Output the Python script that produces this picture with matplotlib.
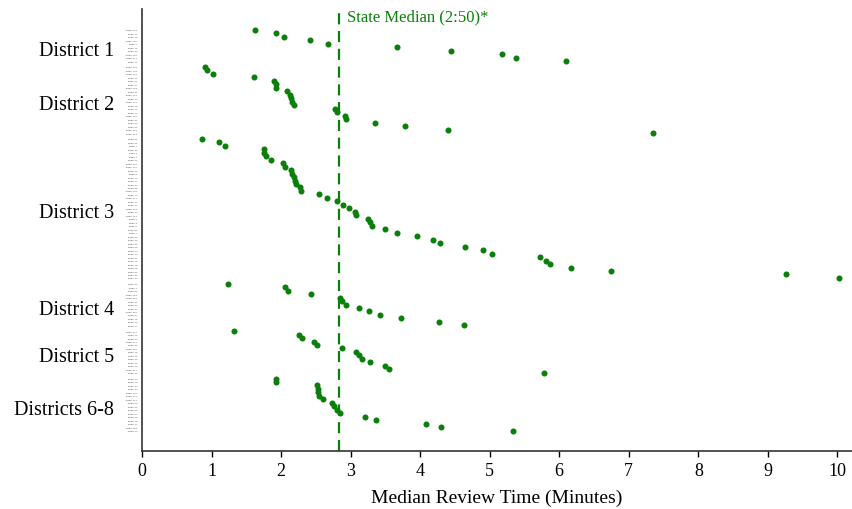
import matplotlib.pyplot as plt
import matplotlib.transforms as mtransforms
import numpy as np

plt.rcParams['font.family'] = ['Liberation Serif', 'DejaVu Serif']

# median review time per judge (minutes), sorted within each district
districts = ["District 1", "District 2", "District 3", "District 4", "District 5", "Districts 6-8"]
times = [
    [1.63, 1.93, 2.04, 2.42, 2.68, 3.66, 4.44, 5.17, 5.38, 6.10],
    [0.91, 0.93, 1.02, 1.61, 1.90, 1.92, 1.93, 2.08, 2.13, 2.14, 2.16, 2.18, 2.77, 2.81,
     2.92, 2.93, 3.35, 3.78, 4.40, 7.35],
    [0.87, 1.11, 1.20, 1.75, 1.76, 1.79, 1.85, 2.03, 2.05, 2.14, 2.16, 2.18, 2.20, 2.21,
     2.27, 2.28, 2.55, 2.66, 2.80, 2.89, 2.97, 3.07, 3.08, 3.25, 3.28, 3.31, 3.50, 3.67,
     3.96, 4.19, 4.29, 4.64, 4.91, 5.04, 5.72, 5.81, 5.87, 6.17, 6.75, 9.26, 10.03],
    [1.23, 2.05, 2.10, 2.43, 2.85, 2.87, 2.94, 3.12, 3.27, 3.42, 3.72, 4.27, 4.63],
    [1.33, 2.26, 2.30, 2.48, 2.52, 2.88, 3.08, 3.12, 3.16, 3.28, 3.50, 3.55, 5.78],
    [1.92, 1.92, 2.51, 2.53, 2.53, 2.54, 2.60, 2.73, 2.76, 2.80, 2.85, 3.20, 3.37, 4.08,
     4.30, 5.33],
]
judge_ids = [
    [109, 72, 18, 101, 6, 75, 33, 102, 117, 11],
    [118, 104, 106, 40, 51, 27, 108, 22, 111, 32, 100, 58, 14, 53, 115, 31, 63, 52, 105, 113],
    [41, 21, 4, 35, 3, 7, 61, 107, 110, 12, 8, 13, 57, 93, 98, 103, 73, 114, 44, 71,
     103, 37, 112, 2, 9, 5, 26, 1, 65, 49, 39, 56, 54, 74, 81, 15, 48, 68, 85, 92, 30],
    [42, 7, 61, 119, 116, 90, 23, 91, 120, 97, 76, 94, 17],
    [121, 19, 82, 124, 95, 125, 79, 16, 43, 45, 60, 122, 46],
    [20, 29, 34, 84, 126, 123, 127, 80, 62, 55, 67, 96, 28, 77, 128, 64],
]
state_median = 2 + 50 / 60

green = "#0a800a"
row_gap = 1.63

fig = plt.figure(figsize=(8.52, 5.10), dpi=100)
ax = fig.add_axes([142 / 852, 58 / 510, 710 / 852, 442 / 510])

ypos, labels, centers = [], [], []
y = 0.0
for k, vals in enumerate(times):
    start = y
    for v, jid in zip(vals, judge_ids[k]):
        ypos.append(y)
        labels.append(f"Judge {jid}")
        y += 1
    centers.append((start + y - 1) / 2)
    y += row_gap - 1

allvals = [v for vals in times for v in vals]
ax.scatter(allvals, ypos, s=19, color=green, zorder=3, linewidths=0)

ax.axvline(state_median, color=green, lw=1.6, ls=(0, (5, 3)), zorder=2)
ax.text(state_median + 0.12, -3.8, "State Median (2:50)*", color=green, fontsize=12,
        va="center", ha="left")

ax.set_xlim(0, 10.21)
ax.set_ylim(ypos[-1] + 5.83, -6.03)
ax.set_xticks(range(0, 11))
ax.tick_params(axis="x", labelsize=13, length=4, width=1, direction="out", pad=4)
ax.set_xlabel("Median Review Time (Minutes)", fontsize=14, labelpad=7)

ax.set_yticks(ypos)
ax.set_yticklabels(labels, fontsize=1.7, color="#555555", family="DejaVu Sans")
ax.tick_params(axis="y", length=0, pad=3.5)

trans = mtransforms.blended_transform_factory(ax.transAxes, ax.transData)
for name, c in zip(districts, centers):
    ax.text(-28 / 710, c + 1.3, name, transform=trans, ha="right", va="center", fontsize=14.5)

for side in ["top", "right"]:
    ax.spines[side].set_visible(False)
for side in ["left", "bottom"]:
    ax.spines[side].set_linewidth(1.2)
    ax.spines[side].set_color("#333333")

plt.savefig("out.png", dpi=100)
